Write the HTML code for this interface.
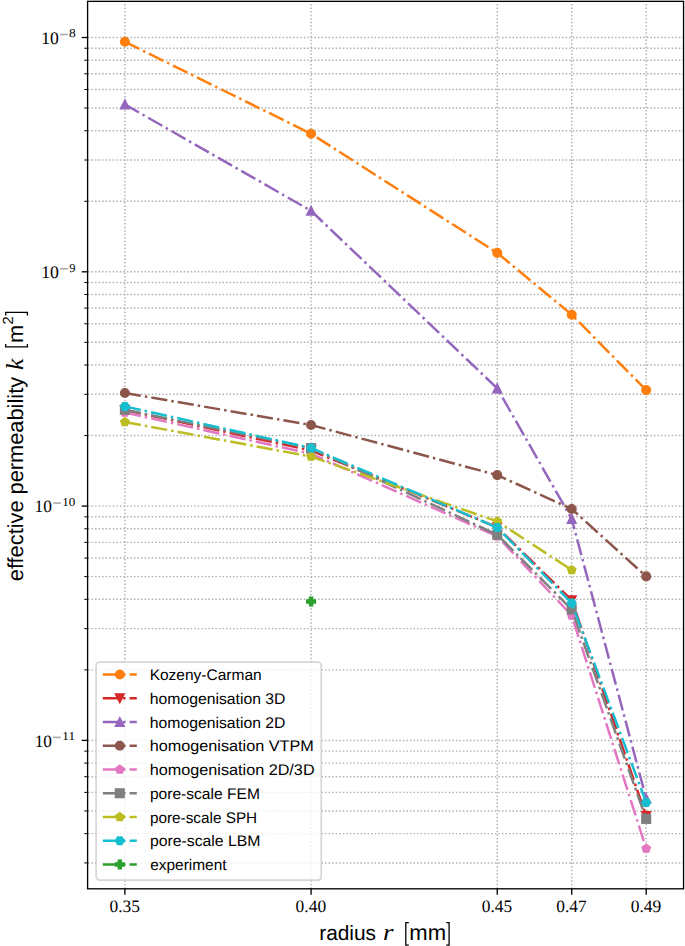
<!DOCTYPE html>
<html><head><meta charset="utf-8"><style>
html,body{margin:0;padding:0;background:#fff;}
body{width:685px;height:946px;position:relative;overflow:hidden;font-family:"Liberation Sans",sans-serif;}
text{text-rendering:geometricPrecision;}
</style></head><body>
<svg width="685" height="946" viewBox="0 0 685 946" style="position:absolute;left:0;top:0"><defs><clipPath id="ax"><rect x="87.6" y="1.35" width="595.9499999999999" height="887.4499999999999"/></clipPath></defs><g stroke="#b0b0b0" stroke-width="1.45" stroke-dasharray="1.5 2.033" fill="none"><line x1="87.6" y1="740.40" x2="683.55" y2="740.40" stroke-dasharray="1.5 2.0377" stroke-dashoffset="-0.42"/><line x1="87.6" y1="506.10" x2="683.55" y2="506.10" stroke-dasharray="1.5 2.0377" stroke-dashoffset="-0.42"/><line x1="87.6" y1="271.80" x2="683.55" y2="271.80" stroke-dasharray="1.5 2.0377" stroke-dashoffset="-0.42"/><line x1="87.6" y1="37.50" x2="683.55" y2="37.50" stroke-dasharray="1.5 2.0377" stroke-dashoffset="-0.42"/><line x1="87.6" y1="862.91" x2="683.55" y2="862.91" stroke-dasharray="1.5 2.0377" stroke-dashoffset="-0.42"/><line x1="87.6" y1="833.64" x2="683.55" y2="833.64" stroke-dasharray="1.5 2.0377" stroke-dashoffset="-0.42"/><line x1="87.6" y1="810.93" x2="683.55" y2="810.93" stroke-dasharray="1.5 2.0377" stroke-dashoffset="-0.42"/><line x1="87.6" y1="792.38" x2="683.55" y2="792.38" stroke-dasharray="1.5 2.0377" stroke-dashoffset="-0.42"/><line x1="87.6" y1="776.69" x2="683.55" y2="776.69" stroke-dasharray="1.5 2.0377" stroke-dashoffset="-0.42"/><line x1="87.6" y1="763.11" x2="683.55" y2="763.11" stroke-dasharray="1.5 2.0377" stroke-dashoffset="-0.42"/><line x1="87.6" y1="751.12" x2="683.55" y2="751.12" stroke-dasharray="1.5 2.0377" stroke-dashoffset="-0.42"/><line x1="87.6" y1="669.87" x2="683.55" y2="669.87" stroke-dasharray="1.5 2.0377" stroke-dashoffset="-0.42"/><line x1="87.6" y1="628.61" x2="683.55" y2="628.61" stroke-dasharray="1.5 2.0377" stroke-dashoffset="-0.42"/><line x1="87.6" y1="599.34" x2="683.55" y2="599.34" stroke-dasharray="1.5 2.0377" stroke-dashoffset="-0.42"/><line x1="87.6" y1="576.63" x2="683.55" y2="576.63" stroke-dasharray="1.5 2.0377" stroke-dashoffset="-0.42"/><line x1="87.6" y1="558.08" x2="683.55" y2="558.08" stroke-dasharray="1.5 2.0377" stroke-dashoffset="-0.42"/><line x1="87.6" y1="542.39" x2="683.55" y2="542.39" stroke-dasharray="1.5 2.0377" stroke-dashoffset="-0.42"/><line x1="87.6" y1="528.81" x2="683.55" y2="528.81" stroke-dasharray="1.5 2.0377" stroke-dashoffset="-0.42"/><line x1="87.6" y1="516.82" x2="683.55" y2="516.82" stroke-dasharray="1.5 2.0377" stroke-dashoffset="-0.42"/><line x1="87.6" y1="435.57" x2="683.55" y2="435.57" stroke-dasharray="1.5 2.0377" stroke-dashoffset="-0.42"/><line x1="87.6" y1="394.31" x2="683.55" y2="394.31" stroke-dasharray="1.5 2.0377" stroke-dashoffset="-0.42"/><line x1="87.6" y1="365.04" x2="683.55" y2="365.04" stroke-dasharray="1.5 2.0377" stroke-dashoffset="-0.42"/><line x1="87.6" y1="342.33" x2="683.55" y2="342.33" stroke-dasharray="1.5 2.0377" stroke-dashoffset="-0.42"/><line x1="87.6" y1="323.78" x2="683.55" y2="323.78" stroke-dasharray="1.5 2.0377" stroke-dashoffset="-0.42"/><line x1="87.6" y1="308.09" x2="683.55" y2="308.09" stroke-dasharray="1.5 2.0377" stroke-dashoffset="-0.42"/><line x1="87.6" y1="294.51" x2="683.55" y2="294.51" stroke-dasharray="1.5 2.0377" stroke-dashoffset="-0.42"/><line x1="87.6" y1="282.52" x2="683.55" y2="282.52" stroke-dasharray="1.5 2.0377" stroke-dashoffset="-0.42"/><line x1="87.6" y1="201.27" x2="683.55" y2="201.27" stroke-dasharray="1.5 2.0377" stroke-dashoffset="-0.42"/><line x1="87.6" y1="160.01" x2="683.55" y2="160.01" stroke-dasharray="1.5 2.0377" stroke-dashoffset="-0.42"/><line x1="87.6" y1="130.74" x2="683.55" y2="130.74" stroke-dasharray="1.5 2.0377" stroke-dashoffset="-0.42"/><line x1="87.6" y1="108.03" x2="683.55" y2="108.03" stroke-dasharray="1.5 2.0377" stroke-dashoffset="-0.42"/><line x1="87.6" y1="89.48" x2="683.55" y2="89.48" stroke-dasharray="1.5 2.0377" stroke-dashoffset="-0.42"/><line x1="87.6" y1="73.79" x2="683.55" y2="73.79" stroke-dasharray="1.5 2.0377" stroke-dashoffset="-0.42"/><line x1="87.6" y1="60.21" x2="683.55" y2="60.21" stroke-dasharray="1.5 2.0377" stroke-dashoffset="-0.42"/><line x1="87.6" y1="48.22" x2="683.55" y2="48.22" stroke-dasharray="1.5 2.0377" stroke-dashoffset="-0.42"/><line x1="124.90" y1="888.8" x2="124.90" y2="1.35"/><line x1="311.08" y1="888.8" x2="311.08" y2="1.35"/><line x1="497.26" y1="888.8" x2="497.26" y2="1.35"/><line x1="571.73" y1="888.8" x2="571.73" y2="1.35"/><line x1="646.20" y1="888.8" x2="646.20" y2="1.35"/></g><g clip-path="url(#ax)"><polyline points="124.90,41.80 311.08,133.70 497.26,252.90 571.73,314.70 646.20,390.10" fill="none" stroke="#ff7f0e" stroke-width="2.5" stroke-dasharray="16.2 4.05 2.5 4.05"/><circle cx="124.90" cy="41.80" r="4.20" fill="#ff7f0e" stroke="#ff7f0e" stroke-width="1.69"/><circle cx="311.08" cy="133.70" r="4.20" fill="#ff7f0e" stroke="#ff7f0e" stroke-width="1.69"/><circle cx="497.26" cy="252.90" r="4.20" fill="#ff7f0e" stroke="#ff7f0e" stroke-width="1.69"/><circle cx="571.73" cy="314.70" r="4.20" fill="#ff7f0e" stroke="#ff7f0e" stroke-width="1.69"/><circle cx="646.20" cy="390.10" r="4.20" fill="#ff7f0e" stroke="#ff7f0e" stroke-width="1.69"/><polyline points="124.90,410.00 311.08,450.40 497.26,527.30 571.73,600.20 646.20,816.00" fill="none" stroke="#d62728" stroke-width="2.5" stroke-dasharray="16.2 4.05 2.5 4.05"/><polygon points="124.90,414.20 120.70,405.80 129.10,405.80" fill="#d62728" stroke="#d62728" stroke-width="1.69" stroke-linejoin="miter"/><polygon points="311.08,454.60 306.88,446.20 315.28,446.20" fill="#d62728" stroke="#d62728" stroke-width="1.69" stroke-linejoin="miter"/><polygon points="497.26,531.50 493.06,523.10 501.46,523.10" fill="#d62728" stroke="#d62728" stroke-width="1.69" stroke-linejoin="miter"/><polygon points="571.73,604.40 567.53,596.00 575.93,596.00" fill="#d62728" stroke="#d62728" stroke-width="1.69" stroke-linejoin="miter"/><polygon points="646.20,820.20 642.00,811.80 650.40,811.80" fill="#d62728" stroke="#d62728" stroke-width="1.69" stroke-linejoin="miter"/><polyline points="124.90,104.45 311.08,210.80 497.26,388.40 571.73,518.90 646.20,798.50" fill="none" stroke="#9467bd" stroke-width="2.5" stroke-dasharray="16.2 4.05 2.5 4.05"/><polygon points="124.90,100.25 120.70,108.65 129.10,108.65" fill="#9467bd" stroke="#9467bd" stroke-width="1.69" stroke-linejoin="miter"/><polygon points="311.08,206.60 306.88,215.00 315.28,215.00" fill="#9467bd" stroke="#9467bd" stroke-width="1.69" stroke-linejoin="miter"/><polygon points="497.26,384.20 493.06,392.60 501.46,392.60" fill="#9467bd" stroke="#9467bd" stroke-width="1.69" stroke-linejoin="miter"/><polygon points="571.73,514.70 567.53,523.10 575.93,523.10" fill="#9467bd" stroke="#9467bd" stroke-width="1.69" stroke-linejoin="miter"/><polygon points="646.20,794.30 642.00,802.70 650.40,802.70" fill="#9467bd" stroke="#9467bd" stroke-width="1.69" stroke-linejoin="miter"/><polyline points="124.90,393.00 311.08,425.00 497.26,475.10 571.73,509.00 646.20,576.40" fill="none" stroke="#8c564b" stroke-width="2.5" stroke-dasharray="16.2 4.05 2.5 4.05"/><circle cx="124.90" cy="393.00" r="4.20" fill="#8c564b" stroke="#8c564b" stroke-width="1.69"/><circle cx="311.08" cy="425.00" r="4.20" fill="#8c564b" stroke="#8c564b" stroke-width="1.69"/><circle cx="497.26" cy="475.10" r="4.20" fill="#8c564b" stroke="#8c564b" stroke-width="1.69"/><circle cx="571.73" cy="509.00" r="4.20" fill="#8c564b" stroke="#8c564b" stroke-width="1.69"/><circle cx="646.20" cy="576.40" r="4.20" fill="#8c564b" stroke="#8c564b" stroke-width="1.69"/><polyline points="124.90,412.55 311.08,453.80 497.26,536.30 571.73,615.50 646.20,848.60" fill="none" stroke="#e377c2" stroke-width="2.5" stroke-dasharray="16.2 4.05 2.5 4.05"/><polygon points="124.90,408.35 120.91,411.25 122.43,415.95 127.37,415.95 128.89,411.25" fill="#e377c2" stroke="#e377c2" stroke-width="1.69" stroke-linejoin="miter"/><polygon points="311.08,449.60 307.08,452.50 308.61,457.20 313.55,457.20 315.07,452.50" fill="#e377c2" stroke="#e377c2" stroke-width="1.69" stroke-linejoin="miter"/><polygon points="497.26,532.10 493.26,535.00 494.79,539.70 499.73,539.70 501.25,535.00" fill="#e377c2" stroke="#e377c2" stroke-width="1.69" stroke-linejoin="miter"/><polygon points="571.73,611.30 567.73,614.20 569.26,618.90 574.20,618.90 575.72,614.20" fill="#e377c2" stroke="#e377c2" stroke-width="1.69" stroke-linejoin="miter"/><polygon points="646.20,844.40 642.21,847.30 643.73,852.00 648.67,852.00 650.19,847.30" fill="#e377c2" stroke="#e377c2" stroke-width="1.69" stroke-linejoin="miter"/><polyline points="124.90,409.80 311.08,448.10 497.26,534.80 571.73,609.50 646.20,818.90" fill="none" stroke="#7f7f7f" stroke-width="2.5" stroke-dasharray="16.2 4.05 2.5 4.05"/><rect x="120.70" y="405.60" width="8.40" height="8.40" fill="#7f7f7f" stroke="#7f7f7f" stroke-width="1.69" stroke-linejoin="miter"/><rect x="306.88" y="443.90" width="8.40" height="8.40" fill="#7f7f7f" stroke="#7f7f7f" stroke-width="1.69" stroke-linejoin="miter"/><rect x="493.06" y="530.60" width="8.40" height="8.40" fill="#7f7f7f" stroke="#7f7f7f" stroke-width="1.69" stroke-linejoin="miter"/><rect x="567.53" y="605.30" width="8.40" height="8.40" fill="#7f7f7f" stroke="#7f7f7f" stroke-width="1.69" stroke-linejoin="miter"/><rect x="642.00" y="814.70" width="8.40" height="8.40" fill="#7f7f7f" stroke="#7f7f7f" stroke-width="1.69" stroke-linejoin="miter"/><polyline points="124.90,422.00 311.08,456.60 497.26,521.40 571.73,570.00" fill="none" stroke="#bcbd22" stroke-width="2.5" stroke-dasharray="16.2 4.05 2.5 4.05"/><polygon points="124.90,417.80 120.91,420.70 122.43,425.40 127.37,425.40 128.89,420.70" fill="#bcbd22" stroke="#bcbd22" stroke-width="1.69" stroke-linejoin="miter"/><polygon points="311.08,452.40 307.08,455.30 308.61,460.00 313.55,460.00 315.07,455.30" fill="#bcbd22" stroke="#bcbd22" stroke-width="1.69" stroke-linejoin="miter"/><polygon points="497.26,517.20 493.26,520.10 494.79,524.80 499.73,524.80 501.25,520.10" fill="#bcbd22" stroke="#bcbd22" stroke-width="1.69" stroke-linejoin="miter"/><polygon points="571.73,565.80 567.73,568.70 569.26,573.40 574.20,573.40 575.72,568.70" fill="#bcbd22" stroke="#bcbd22" stroke-width="1.69" stroke-linejoin="miter"/><polyline points="124.90,406.40 311.08,448.00 497.26,527.60 571.73,603.00 646.20,802.50" fill="none" stroke="#17becf" stroke-width="2.5" stroke-dasharray="16.2 4.05 2.5 4.05"/><polygon points="129.10,406.40 127.00,402.76 122.80,402.76 120.70,406.40 122.80,410.04 127.00,410.04" fill="#17becf" stroke="#17becf" stroke-width="1.69" stroke-linejoin="miter"/><polygon points="315.28,448.00 313.18,444.36 308.98,444.36 306.88,448.00 308.98,451.64 313.18,451.64" fill="#17becf" stroke="#17becf" stroke-width="1.69" stroke-linejoin="miter"/><polygon points="501.46,527.60 499.36,523.96 495.16,523.96 493.06,527.60 495.16,531.24 499.36,531.24" fill="#17becf" stroke="#17becf" stroke-width="1.69" stroke-linejoin="miter"/><polygon points="575.93,603.00 573.83,599.36 569.63,599.36 567.53,603.00 569.63,606.64 573.83,606.64" fill="#17becf" stroke="#17becf" stroke-width="1.69" stroke-linejoin="miter"/><polygon points="650.40,802.50 648.30,798.86 644.10,798.86 642.00,802.50 644.10,806.14 648.30,806.14" fill="#17becf" stroke="#17becf" stroke-width="1.69" stroke-linejoin="miter"/><polygon points="309.68,597.30 312.48,597.30 312.48,600.10 315.28,600.10 315.28,602.90 312.48,602.90 312.48,605.70 309.68,605.70 309.68,602.90 306.88,602.90 306.88,600.10 309.68,600.10" fill="#2ca02c" stroke="#2ca02c" stroke-width="1.69" stroke-linejoin="miter"/></g><rect x="96.1" y="662.1" width="225.15" height="217.95" rx="3.3" ry="3.3" fill="#ffffff" fill-opacity="0.8" stroke="#cccccc" stroke-opacity="0.8" stroke-width="1.667"/><line x1="102.8" y1="674.50" x2="136.8" y2="674.50" stroke="#ff7f0e" stroke-width="2.5" stroke-dasharray="16.2 4.05 2.5 4.05"/><circle cx="119.80" cy="674.50" r="4.20" fill="#ff7f0e" stroke="#ff7f0e" stroke-width="1.69"/><line x1="102.8" y1="698.25" x2="136.8" y2="698.25" stroke="#d62728" stroke-width="2.5" stroke-dasharray="16.2 4.05 2.5 4.05"/><polygon points="119.80,702.45 115.60,694.05 124.00,694.05" fill="#d62728" stroke="#d62728" stroke-width="1.69" stroke-linejoin="miter"/><line x1="102.8" y1="722.00" x2="136.8" y2="722.00" stroke="#9467bd" stroke-width="2.5" stroke-dasharray="16.2 4.05 2.5 4.05"/><polygon points="119.80,717.80 115.60,726.20 124.00,726.20" fill="#9467bd" stroke="#9467bd" stroke-width="1.69" stroke-linejoin="miter"/><line x1="102.8" y1="745.75" x2="136.8" y2="745.75" stroke="#8c564b" stroke-width="2.5" stroke-dasharray="16.2 4.05 2.5 4.05"/><circle cx="119.80" cy="745.75" r="4.20" fill="#8c564b" stroke="#8c564b" stroke-width="1.69"/><line x1="102.8" y1="769.50" x2="136.8" y2="769.50" stroke="#e377c2" stroke-width="2.5" stroke-dasharray="16.2 4.05 2.5 4.05"/><polygon points="119.80,765.30 115.81,768.20 117.33,772.90 122.27,772.90 123.79,768.20" fill="#e377c2" stroke="#e377c2" stroke-width="1.69" stroke-linejoin="miter"/><line x1="102.8" y1="793.25" x2="136.8" y2="793.25" stroke="#7f7f7f" stroke-width="2.5" stroke-dasharray="16.2 4.05 2.5 4.05"/><rect x="115.60" y="789.05" width="8.40" height="8.40" fill="#7f7f7f" stroke="#7f7f7f" stroke-width="1.69" stroke-linejoin="miter"/><line x1="102.8" y1="817.00" x2="136.8" y2="817.00" stroke="#bcbd22" stroke-width="2.5" stroke-dasharray="16.2 4.05 2.5 4.05"/><polygon points="119.80,812.80 115.81,815.70 117.33,820.40 122.27,820.40 123.79,815.70" fill="#bcbd22" stroke="#bcbd22" stroke-width="1.69" stroke-linejoin="miter"/><line x1="102.8" y1="840.75" x2="136.8" y2="840.75" stroke="#17becf" stroke-width="2.5" stroke-dasharray="16.2 4.05 2.5 4.05"/><polygon points="124.00,840.75 121.90,837.11 117.70,837.11 115.60,840.75 117.70,844.39 121.90,844.39" fill="#17becf" stroke="#17becf" stroke-width="1.69" stroke-linejoin="miter"/><line x1="102.8" y1="864.50" x2="136.8" y2="864.50" stroke="#2ca02c" stroke-width="2.5" stroke-dasharray="16.2 4.05 2.5 4.05"/><polygon points="118.40,860.30 121.20,860.30 121.20,863.10 124.00,863.10 124.00,865.90 121.20,865.90 121.20,868.70 118.40,868.70 118.40,865.90 115.60,865.90 115.60,863.10 118.40,863.10" fill="#2ca02c" stroke="#2ca02c" stroke-width="1.69" stroke-linejoin="miter"/><g stroke="#000" stroke-width="1.333" fill="none" stroke-linecap="square"><rect x="87.6" y="1.35" width="595.95" height="887.45" stroke-linejoin="miter" stroke-linecap="butt"/></g><g stroke="#000"><line x1="81.77" y1="740.40" x2="87.6" y2="740.40" stroke-width="1.333"/><line x1="81.77" y1="506.10" x2="87.6" y2="506.10" stroke-width="1.333"/><line x1="81.77" y1="271.80" x2="87.6" y2="271.80" stroke-width="1.333"/><line x1="81.77" y1="37.50" x2="87.6" y2="37.50" stroke-width="1.333"/><line x1="84.27" y1="862.91" x2="87.6" y2="862.91" stroke-width="1.0"/><line x1="84.27" y1="833.64" x2="87.6" y2="833.64" stroke-width="1.0"/><line x1="84.27" y1="810.93" x2="87.6" y2="810.93" stroke-width="1.0"/><line x1="84.27" y1="792.38" x2="87.6" y2="792.38" stroke-width="1.0"/><line x1="84.27" y1="776.69" x2="87.6" y2="776.69" stroke-width="1.0"/><line x1="84.27" y1="763.11" x2="87.6" y2="763.11" stroke-width="1.0"/><line x1="84.27" y1="751.12" x2="87.6" y2="751.12" stroke-width="1.0"/><line x1="84.27" y1="669.87" x2="87.6" y2="669.87" stroke-width="1.0"/><line x1="84.27" y1="628.61" x2="87.6" y2="628.61" stroke-width="1.0"/><line x1="84.27" y1="599.34" x2="87.6" y2="599.34" stroke-width="1.0"/><line x1="84.27" y1="576.63" x2="87.6" y2="576.63" stroke-width="1.0"/><line x1="84.27" y1="558.08" x2="87.6" y2="558.08" stroke-width="1.0"/><line x1="84.27" y1="542.39" x2="87.6" y2="542.39" stroke-width="1.0"/><line x1="84.27" y1="528.81" x2="87.6" y2="528.81" stroke-width="1.0"/><line x1="84.27" y1="516.82" x2="87.6" y2="516.82" stroke-width="1.0"/><line x1="84.27" y1="435.57" x2="87.6" y2="435.57" stroke-width="1.0"/><line x1="84.27" y1="394.31" x2="87.6" y2="394.31" stroke-width="1.0"/><line x1="84.27" y1="365.04" x2="87.6" y2="365.04" stroke-width="1.0"/><line x1="84.27" y1="342.33" x2="87.6" y2="342.33" stroke-width="1.0"/><line x1="84.27" y1="323.78" x2="87.6" y2="323.78" stroke-width="1.0"/><line x1="84.27" y1="308.09" x2="87.6" y2="308.09" stroke-width="1.0"/><line x1="84.27" y1="294.51" x2="87.6" y2="294.51" stroke-width="1.0"/><line x1="84.27" y1="282.52" x2="87.6" y2="282.52" stroke-width="1.0"/><line x1="84.27" y1="201.27" x2="87.6" y2="201.27" stroke-width="1.0"/><line x1="84.27" y1="160.01" x2="87.6" y2="160.01" stroke-width="1.0"/><line x1="84.27" y1="130.74" x2="87.6" y2="130.74" stroke-width="1.0"/><line x1="84.27" y1="108.03" x2="87.6" y2="108.03" stroke-width="1.0"/><line x1="84.27" y1="89.48" x2="87.6" y2="89.48" stroke-width="1.0"/><line x1="84.27" y1="73.79" x2="87.6" y2="73.79" stroke-width="1.0"/><line x1="84.27" y1="60.21" x2="87.6" y2="60.21" stroke-width="1.0"/><line x1="84.27" y1="48.22" x2="87.6" y2="48.22" stroke-width="1.0"/><line x1="124.90" y1="888.8" x2="124.90" y2="894.63" stroke-width="1.333"/><line x1="311.08" y1="888.8" x2="311.08" y2="894.63" stroke-width="1.333"/><line x1="497.26" y1="888.8" x2="497.26" y2="894.63" stroke-width="1.333"/><line x1="571.73" y1="888.8" x2="571.73" y2="894.63" stroke-width="1.333"/><line x1="646.20" y1="888.8" x2="646.20" y2="894.63" stroke-width="1.333"/></g><text x="109.44" y="912.40" font-family="Liberation Serif" font-size="17.46" fill="#000">0.35</text><text x="295.61" y="912.40" font-family="Liberation Serif" font-size="17.45" fill="#000">0.40</text><text x="481.79" y="912.40" font-family="Liberation Serif" font-size="17.46" fill="#000">0.45</text><text x="556.27" y="912.40" font-family="Liberation Serif" font-size="17.35" fill="#000">0.47</text><text x="630.73" y="912.40" font-family="Liberation Serif" font-size="17.48" fill="#000">0.49</text><text transform="translate(149.63,680.10) scale(1.0073,1)" x="0" y="0" font-family="Liberation Sans" font-size="15.40" fill="#000">Kozeny-Carman</text><text transform="translate(149.81,703.85) scale(1.0230,1)" x="0" y="0" font-family="Liberation Sans" font-size="15.40" fill="#000">homogenisation 3D</text><text transform="translate(149.81,727.60) scale(1.0230,1)" x="0" y="0" font-family="Liberation Sans" font-size="15.40" fill="#000">homogenisation 2D</text><text transform="translate(149.78,751.35) scale(1.0531,1)" x="0" y="0" font-family="Liberation Sans" font-size="15.40" fill="#000">homogenisation VTPM</text><text transform="translate(149.78,775.10) scale(1.0526,1)" x="0" y="0" font-family="Liberation Sans" font-size="15.40" fill="#000">homogenisation 2D/3D</text><text transform="translate(149.89,798.85) scale(1.0129,1)" x="0" y="0" font-family="Liberation Sans" font-size="15.40" fill="#000">pore-scale FEM</text><text transform="translate(149.91,822.60) scale(0.9953,1)" x="0" y="0" font-family="Liberation Sans" font-size="15.40" fill="#000">pore-scale SPH</text><text transform="translate(149.88,846.35) scale(1.0266,1)" x="0" y="0" font-family="Liberation Sans" font-size="15.40" fill="#000">pore-scale LBM</text><text transform="translate(150.24,870.10) scale(1.0025,1)" x="0" y="0" font-family="Liberation Sans" font-size="15.40" fill="#000">experiment</text><text x="41.21" y="43.70" font-family="Liberation Serif" font-size="17.56" fill="#000">10</text><text transform="translate(68.99,37.40) scale(1.1207,1)" x="0" y="0" font-family="Liberation Serif" font-size="12.00" fill="#000">8</text><rect x="60.00" y="33.70" width="7.65" height="1.6" fill="#aaaaaa"/><text x="41.24" y="278.00" font-family="Liberation Serif" font-size="17.73" fill="#000">10</text><text transform="translate(69.20,271.70) scale(1.0349,1)" x="0" y="0" font-family="Liberation Serif" font-size="12.00" fill="#000">9</text><rect x="60.00" y="268.00" width="7.90" height="1.6" fill="#aaaaaa"/><text x="34.57" y="512.30" font-family="Liberation Serif" font-size="17.39" fill="#000">10</text><text transform="translate(62.35,506.00) scale(1.0869,1)" x="0" y="0" font-family="Liberation Serif" font-size="12.00" fill="#000">10</text><rect x="53.40" y="502.30" width="7.50" height="1.6" fill="#aaaaaa"/><text x="34.68" y="746.60" font-family="Liberation Serif" font-size="17.28" fill="#000">10</text><text transform="translate(62.34,740.30) scale(1.0954,1)" x="0" y="0" font-family="Liberation Serif" font-size="12.00" fill="#000">11</text><rect x="53.00" y="736.60" width="7.90" height="1.6" fill="#aaaaaa"/><text x="319.21" y="939.80" font-family="Liberation Sans" font-size="20.87" fill="#000">radius</text><text transform="translate(383.10,939.80) scale(1.1499,1)" x="0" y="0" font-family="Liberation Serif" font-style="italic" font-size="23.50" fill="#000">r</text><text x="409.34" y="939.70" font-family="Liberation Sans" font-size="22.04" fill="#000">mm</text><path d="M408.8 922.65 H405.8 V945.05 H408.8" fill="none" stroke="#000" stroke-width="1.3"/><path d="M446.2 922.65 H449.1 V945.05 H446.2" fill="none" stroke="#000" stroke-width="1.3"/><text transform="translate(22.8,0) rotate(-90)" x="-581.23" y="0" font-family="Liberation Sans" font-size="21.80" fill="#000">effective</text><text transform="translate(22.8,0) rotate(-90)" x="-494.51" y="0" font-family="Liberation Sans" font-size="21.82" fill="#000">permeability</text><text transform="translate(22.80,0) rotate(-90) translate(-370.04,0) scale(1.0544,1)" x="0" y="0" font-family="Liberation Serif" font-style="italic" font-size="24.50" fill="#000">k</text><text transform="translate(22.8,0) rotate(-90)" x="-343.04" y="0" font-family="Liberation Sans" font-size="21.69" fill="#000">m</text><path d="M5.7 344.1 V346.85 H27.4 V344.1" fill="none" stroke="#000" stroke-width="1.3"/><text transform="translate(13.0,0) rotate(-90)" x="-324.54" y="0" font-family="Liberation Sans" font-size="14.71" fill="#000">2</text><path d="M5.7 315.4 V312.45 H27.4 V315.4" fill="none" stroke="#000" stroke-width="1.3"/></svg>
</body></html>
